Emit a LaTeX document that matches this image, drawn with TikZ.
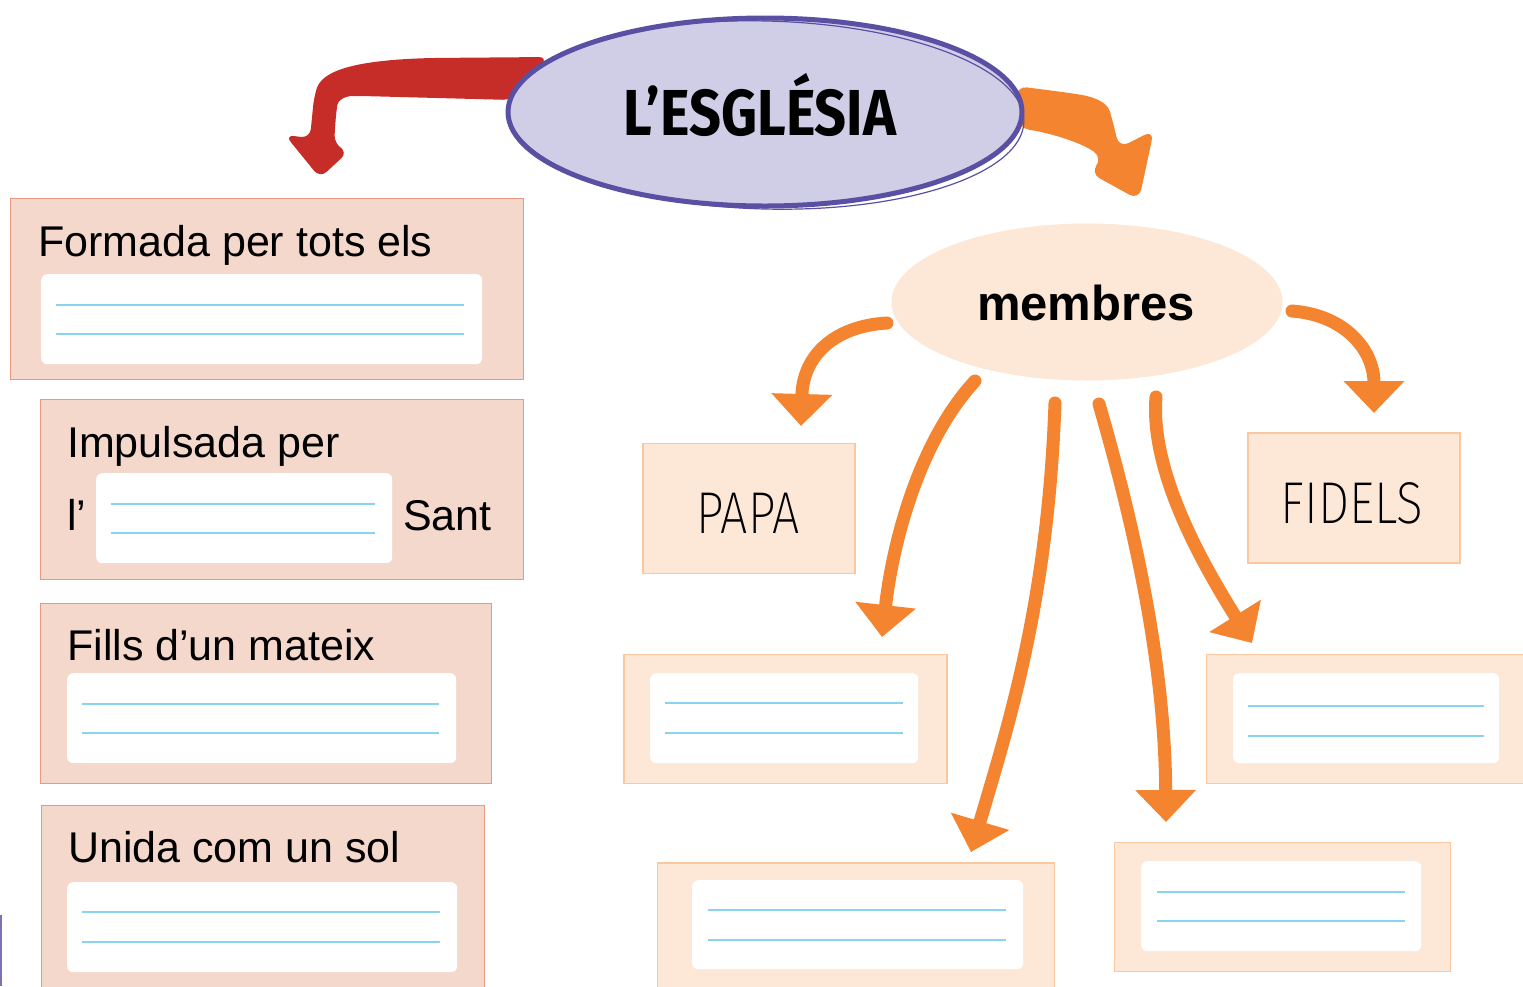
\documentclass[tikz,border=0pt]{standalone}
\usepackage{fontspec}
\setmainfont{Liberation Sans}
\usetikzlibrary{arrows.meta,shapes.geometric}
\IfFontExistsTF{Fira Sans ExtraLight}{\newfontfamily\thinfont{Fira Sans ExtraLight}}{\IfFontExistsTF{Fira Sans Light}{\newfontfamily\thinfont{Fira Sans Light}}{\newfontfamily\thinfont{Fira Sans}}}
\newfontfamily\titlefont{Fira Sans}
\definecolor{lfill}{HTML}{F3D8CB}
\definecolor{lborder}{HTML}{E89A80}
\definecolor{rfill}{HTML}{FDE8D8}
\definecolor{rborder}{HTML}{F9C7A0}
\definecolor{lineblue}{HTML}{8AD4F2}
\definecolor{myorange}{HTML}{F58430}
\definecolor{myred}{HTML}{C62D28}
\definecolor{lav}{HTML}{D0CEE6}
\definecolor{lavborder}{HTML}{5A50A3}
\definecolor{memfill}{HTML}{FDE7D7}
\tikzset{
  lbox/.style={draw=lborder, fill=lfill, line width=1.5pt, inner sep=0pt, anchor=north west},
  rbox/.style={draw=rborder, fill=rfill, line width=1.5pt, inner sep=0pt, anchor=north west},
  wbox/.style={fill=white, rounded corners=6pt, inner sep=0pt, anchor=north west},
  bline/.style={draw=lineblue, line width=1.5pt},
  txt/.style={inner sep=0pt, anchor=base west, font=\fontsize{43}{50}\selectfont},
  thintxt/.style={inner sep=0pt, anchor=base, font=\thinfont\fontsize{59}{66}\selectfont},
  oarrow/.style={draw=myorange, line width=13pt, line cap=round, -{Triangle[width=59pt,length=32pt]}}
}
\begin{document}
\begin{tikzpicture}[x=1pt,y=-1pt]
\useasboundingbox (0,0) rectangle (1523,986);
\clip (0,0) rectangle (1523,986);

% ---------- top arrows (behind the ellipse) ----------
\fill[myred, rounded corners=9pt] (548,57) -- (430,58) .. controls (350,61) and (322,72) .. (314,97)
  -- (310,138) -- (285,135) -- (320,178) -- (348,152) -- (334,144) -- (336,114)
  .. controls (338,100) and (345,96) .. (362,96) -- (512,100) -- cycle;
\fill[myorange, rounded corners=11pt] (1016,86) -- (1070,93) .. controls (1100,98) and (1108,105) .. (1113,122)
  -- (1119,148) -- (1154,130) -- (1139,200) -- (1090,173) -- (1103,158)
  .. controls (1080,142) and (1050,133) .. (1018,128) -- cycle;

% ---------- central ellipse ----------
\node[ellipse, fill=lav, draw=lavborder, line width=5pt, minimum width=514pt, minimum height=188pt] (church) at (765,112) {};
\draw[lavborder, line width=1.2pt, rotate around={-1.5:(766,115)}] (766,115) ellipse [x radius=258pt, y radius=94pt];
\node[inner sep=0pt, anchor=base, font=\titlefont\bfseries\fontsize{65}{70}\selectfont] (title) at (760,135) {\scalebox{0.86}[1]{L’ESGLÉSIA}};

% ---------- left boxes ----------
\node[lbox, minimum width=513pt, minimum height=181pt] (b1) at (9.5,197.5) {};
\node[wbox, minimum width=441pt, minimum height=90pt] (w1) at (41,274) {};
\draw[bline] (56,305) -- (464,305);
\draw[bline] (56,334) -- (464,334);
\node[txt] (t1) at (38,256) {Formada per tots els};

\node[lbox, minimum width=483pt, minimum height=180pt] (b2) at (39.5,398.5) {};
\node[wbox, minimum width=296pt, minimum height=90pt] (w2) at (96,473) {};
\draw[bline] (111,504) -- (375,504);
\draw[bline] (111,533) -- (375,533);
\node[txt] (t2) at (67,457) {Impulsada per};
\node[txt] (t2b) at (67,530) {l’};
\node[txt] (t2c) at (403,530) {Sant};

\node[lbox, minimum width=451pt, minimum height=180pt] (b3) at (39.5,602.5) {};
\node[wbox, minimum width=389pt, minimum height=90pt] (w3) at (67,673) {};
\draw[bline] (82,704) -- (439,704);
\draw[bline] (82,733) -- (439,733);
\node[txt] (t3) at (67,660) {Fills d’un mateix};

\node[lbox, minimum width=443pt, minimum height=182pt] (b4) at (40.5,804.5) {};
\node[wbox, minimum width=390pt, minimum height=90pt] (w4) at (67,882) {};
\draw[bline] (82,912) -- (440,912);
\draw[bline] (82,942) -- (440,942);
\node[txt] (t4) at (68,862) {Unida com un sol};

% ---------- membres ----------
\node[ellipse, fill=memfill, minimum width=391pt, minimum height=157pt, inner sep=0pt] (mem) at (1087,302) {};
\node[inner sep=0pt, anchor=base, font=\bfseries\fontsize{49}{55}\selectfont] (memt) at (1086,320) {membres};

% ---------- right boxes ----------
\node[rbox, minimum width=212pt, minimum height=130pt] (papa) at (642,442.5) {};
\node[thintxt] (papat) at (748,533) {\scalebox{0.82}[1]{PAPA}};
\node[rbox, minimum width=212pt, minimum height=130pt] (fidels) at (1247,432) {};
\node[thintxt] (fidelst) at (1352,523) {\scalebox{0.84}[1]{FIDELS}};

\node[rbox, minimum width=323pt, minimum height=129pt] (r1) at (623,653.5) {};
\node[wbox, minimum width=268pt, minimum height=90pt] (rw1) at (650,673) {};
\draw[bline] (665,703) -- (903,703);
\draw[bline] (665,733) -- (903,733);

\node[rbox, minimum width=330pt, minimum height=129pt] (r2) at (1205.5,653.5) {};
\node[wbox, minimum width=266pt, minimum height=90pt] (rw2) at (1233,673) {};
\draw[bline] (1248,706) -- (1484,706);
\draw[bline] (1248,736) -- (1484,736);

\node[rbox, minimum width=397pt, minimum height=140pt] (r3) at (656.5,862) {};
\node[wbox, minimum width=331pt, minimum height=89pt] (rw3) at (692,880) {};
\draw[bline] (708,910) -- (1006,910);
\draw[bline] (708,940) -- (1006,940);

\node[rbox, minimum width=336pt, minimum height=129pt] (r4) at (1113.5,841.5) {};
\node[wbox, minimum width=280pt, minimum height=90pt] (rw4) at (1141,861) {};
\draw[bline] (1157,892) -- (1405,892);
\draw[bline] (1157,921) -- (1405,921);

% ---------- arrows from membres ----------
\coordinate (s1) at (887,323);  \coordinate (e1) at (801,426);
\coordinate (s2) at (975,381);  \coordinate (e2) at (882,637);
\coordinate (s3) at (1055,403); \coordinate (e3) at (971,852);
\coordinate (s4) at (1099,404); \coordinate (e4) at (1166,822);
\coordinate (s5) at (1156,397); \coordinate (e5) at (1252,643);
\coordinate (s6) at (1292,311); \coordinate (e6) at (1374,413);
\draw[oarrow] (s1) .. controls (835,326) and (803,355) .. (e1);
\draw[oarrow] (s2) .. controls (920,440) and (893,540) .. (e2);
\draw[oarrow] (s3) .. controls (1048,600) and (1010,720) .. (e3);
\draw[oarrow] (s4) .. controls (1150,580) and (1165,700) .. (e4);
\draw[oarrow] (s5) .. controls (1150,470) and (1200,560) .. (e5);
\draw[oarrow] (s6) .. controls (1345,315) and (1374,350) .. (e6);

% small edge mark bottom left
\draw[lavborder!80, line width=1.5pt] (1,915) -- (1,986);
\end{tikzpicture}
\end{document}
